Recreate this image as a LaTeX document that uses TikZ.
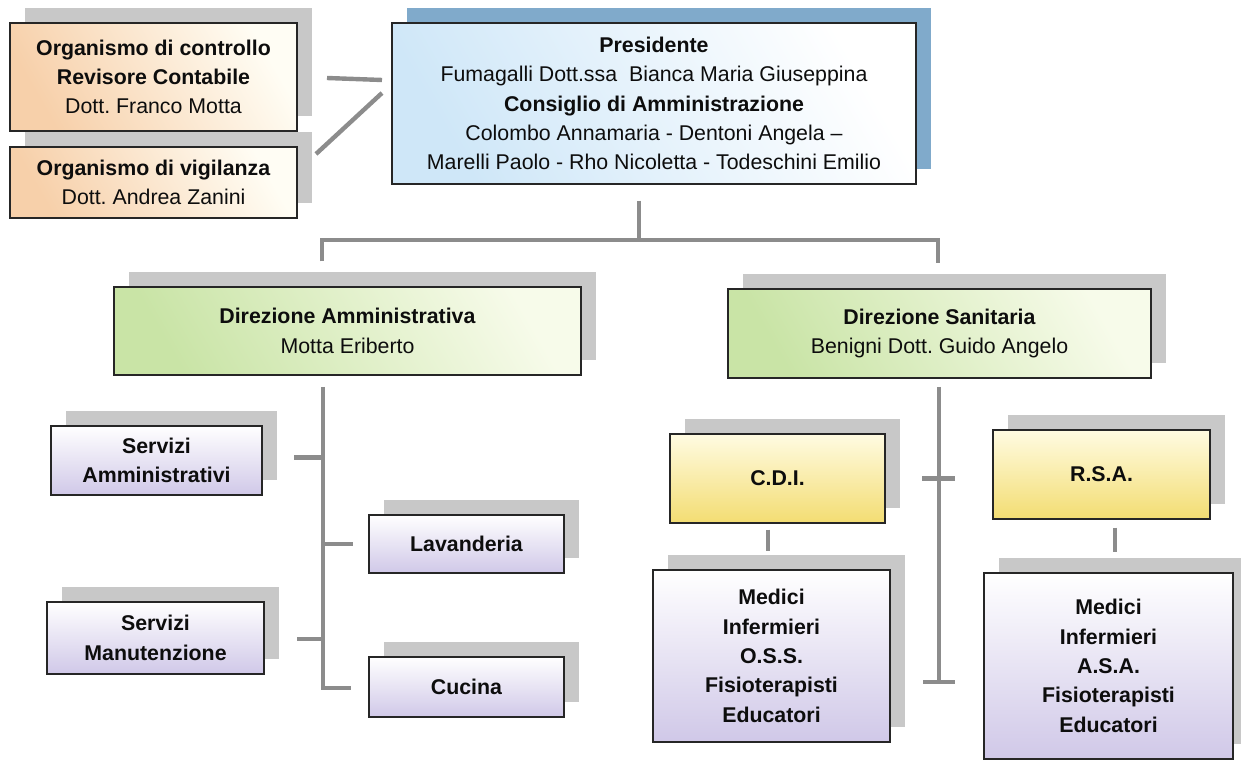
\documentclass[tikz,border=0pt]{standalone}
\usepackage{fontspec}
\setmainfont{Liberation Sans}
\usetikzlibrary{shadows}
\definecolor{shadowgray}{HTML}{C8C8C8}
\definecolor{shadowblue}{HTML}{80AACB}
\definecolor{linkgray}{HTML}{8C8C8C}
\definecolor{peachc}{HTML}{F7D0AA}
\definecolor{creamc}{HTML}{FFFDF4}
\definecolor{skyc}{HTML}{CFE7F8}
\definecolor{leafc}{HTML}{C9E4A6}
\definecolor{leaflc}{HTML}{F7FBEA}
\definecolor{sunc}{HTML}{F3DD72}
\definecolor{sunlc}{HTML}{FFFBE2}
\definecolor{lilacc}{HTML}{D0C8E8}

\begin{document}
\begin{tikzpicture}[x=0.75pt, y=-0.75pt,
    chart/.style={draw=black!85, line width=1.1pt, inner sep=0pt, align=center,
        text=black!95, font=\fontsize{16}{22}\selectfont,
        general shadow={fill=#1, shadow xshift=11pt, shadow yshift=11pt}},
    chart/.default=shadowgray,
    dims/.style 2 args={minimum width=#1*0.75pt, minimum height=#2*0.75pt},
    peach/.style={left color=peachc, right color=creamc, shading angle=120},
    sky/.style={left color=skyc, right color=white, shading angle=120},
    leaf/.style={left color=leafc, right color=leaflc, shading angle=120},
    sun/.style={top color=sunlc, bottom color=sunc},
    lilac/.style={top color=white, bottom color=lilacc},
    link/.style={draw=linkgray, line width=3.3pt}]
    \useasboundingbox (0,0) rectangle (1241,762);

    \node[chart, peach, dims={287}{108}] (ctrl) at (153.5,77)
        {\textbf{Organismo di controllo}\\\textbf{Revisore Contabile}\\Dott.\ Franco Motta};
    \node[chart, peach, dims={287}{71}] (vig) at (153.5,182.5)
        {\textbf{Organismo di vigilanza}\\Dott.\ Andrea Zanini};
    \node[chart=shadowblue, sky, dims={524}{161}] (pres) at (654,103.5)
        {\textbf{Presidente}\\Fumagalli Dott.ssa\ \ Bianca Maria Giuseppina\\
         \textbf{Consiglio di Amministrazione}\\Colombo Annamaria - Dentoni Angela –\\
         Marelli Paolo - Rho Nicoletta - Todeschini Emilio};

    \node[chart, leaf, dims={467}{88}] (dirA) at (347.5,331)
        {\textbf{Direzione Amministrativa}\\Motta Eriberto};
    \node[chart, leaf, dims={423}{89}] (dirS) at (939.5,333.5)
        {\textbf{Direzione Sanitaria}\\Benigni Dott.\ Guido Angelo};

    \node[chart, lilac, dims={211}{69}, font=\fontsize{16}{22}\selectfont\bfseries] (servA) at (156.5,460.5)
        {Servizi\\Amministrativi};
    \node[chart, lilac, dims={195}{58}, font=\fontsize{16}{22}\selectfont\bfseries] (lav) at (466.5,544)
        {Lavanderia};
    \node[chart, lilac, dims={217}{72}, font=\fontsize{16}{22}\selectfont\bfseries] (servM) at (155.5,638)
        {Servizi\\Manutenzione};
    \node[chart, lilac, dims={195}{60}, font=\fontsize{16}{22}\selectfont\bfseries] (cuc) at (466.5,687)
        {Cucina};

    \node[chart, sun, dims={215}{89}, font=\fontsize{16}{22}\selectfont\bfseries] (cdi) at (777.5,478.5) {C.D.I.};
    \node[chart, sun, dims={217}{89}, font=\fontsize{16}{22}\selectfont\bfseries] (rsa) at (1101.5,474.5) {R.S.A.};
    \node[chart, lilac, dims={237}{172}, font=\fontsize{16}{22}\selectfont\bfseries] (medC) at (771.5,656)
        {Medici\\Infermieri\\O.S.S.\\Fisioterapisti\\Educatori};
    \node[chart, lilac, dims={249}{186}, font=\fontsize{16}{22}\selectfont\bfseries] (medR) at (1108.5,666)
        {Medici\\Infermieri\\A.S.A.\\Fisioterapisti\\Educatori};

    \coordinate (ctrlIn) at (327,78);
    \coordinate (vigIn) at (316,154);
    \coordinate (presL) at (382,80);
    \coordinate (presLL) at (382,93);
    \coordinate (busL) at (322,240);
    \coordinate (busR) at (938,240);
    \coordinate (amTop) at (323,387);
    \coordinate (amBot) at (323,688);
    \coordinate (saTop) at (939,387);
    \coordinate (saBot) at (939,682);

    \draw[link] (ctrlIn) -- (presL);
    \draw[link] (vigIn) -- (presLL);
    \draw[link] (pres.south) ++(-15,16) -- ++(0,40);
    \draw[link] (busL |- dirA.north) ++(0,-25) -- (busL) -- (busR) -- ++(0,23);

    \draw[link] (amTop) -- (amBot) -- ++(28,0);
    \draw[link] (amTop |- servA.east) ++(0,-3) -- ++(-29,0);
    \draw[link] (amTop |- lav.west) -- ++(30,0);
    \draw[link] (amTop |- servM.east) ++(0,1) -- ++(-26,0);

    \draw[link] (saTop) -- (saBot);
    \draw[link] (saTop |- cdi.east) ++(-17,0) -- ++(33,0);
    \draw[link] (saBot) ++(-16,0) -- ++(32,0);
    \draw[link] (cdi.south) ++(-9.5,6) -- ++(0,21);
    \draw[link] (rsa.south) ++(13.5,8) -- ++(0,24);
\end{tikzpicture}
\end{document}
